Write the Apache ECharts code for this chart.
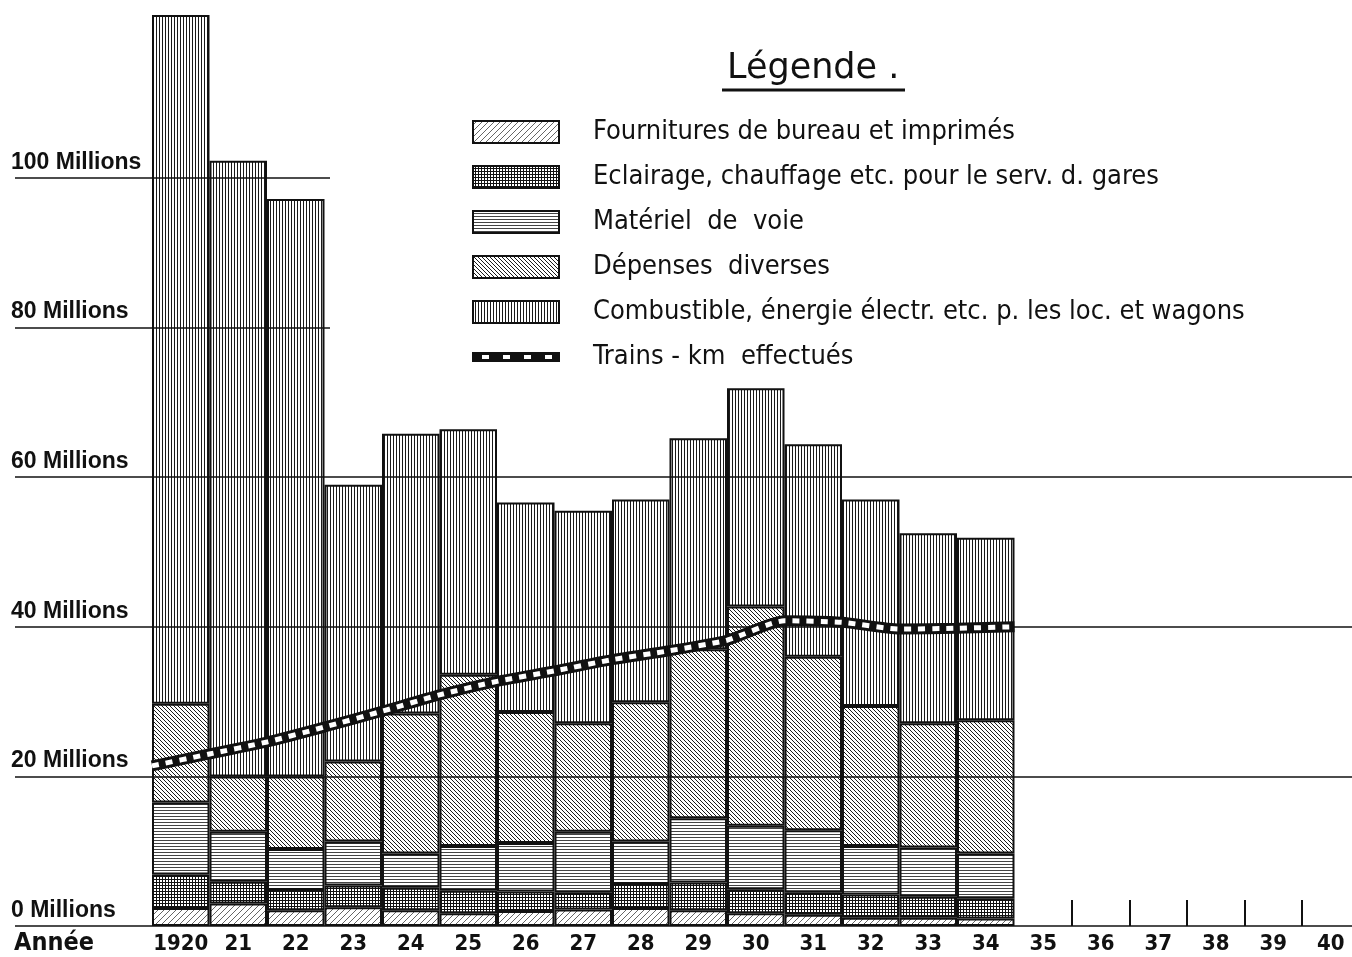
<!DOCTYPE html>
<html><head><meta charset="utf-8">
<script src="https://cdn.jsdelivr.net/npm/echarts@6/dist/echarts.min.js"></script>
<style>html,body{margin:0;padding:0;background:#fff}#c{width:1352px;height:957px}</style>
</head><body><div id="c"></div>
<script>
// ---- DATA ----
const years = ['1920','21','22','23','24','25','26','27','28','29','30','31','32','33','34','35','36','37','38','39','40'];
const fournitures = [2.4, 3.0, 2.1, 2.5, 2.1, 1.7, 2.0, 2.2, 2.4, 2.1, 1.7, 1.5, 1.1, 1.1, 1.0];
const eclairage   = [4.5, 2.9, 2.7, 2.9, 3.0, 3.0, 2.6, 2.3, 3.2, 3.7, 3.2, 3.0, 3.1, 2.8, 2.7];
const materiel    = [9.6, 6.7, 5.5, 5.9, 4.6, 6.0, 6.5, 8.1, 5.7, 8.6, 8.5, 8.3, 6.5, 6.6, 6.0];
const depenses    = [13.2, 7.4, 9.7, 10.7, 18.7, 22.9, 17.5, 14.5, 18.6, 22.6, 29.3, 23.2, 18.7, 16.6, 17.8];
const combustible = [92.1, 82.3, 77.2, 37.0, 37.4, 32.8, 28.0, 28.4, 27.1, 28.2, 29.2, 28.4, 27.6, 25.4, 24.4];
// Trains-km, read at the bar boundaries (start of 1920 ... end of 1934)
const trainsKm    = [21.4, 23.0, 24.6, 26.6, 28.7, 30.9, 32.7, 34.1, 35.6, 36.8, 38.2, 40.8, 40.6, 39.7, 39.8, 40.0];
const gridValues  = [0, 20, 40, 60, 80, 100];
const gridLabels  = ['0 Millions', '20 Millions', '40 Millions', '60 Millions', '80 Millions', '100 Millions'];
const names = [
  'Fournitures de bureau et imprimés',
  'Eclairage, chauffage etc. pour le serv. d. gares',
  'Matériel  de  voie',
  'Dépenses  diverses',
  'Combustible, énergie électr. etc. p. les loc. et wagons',
  'Trains - km  effectués'
];

// ---- PATTERNS ----
function tile(kind) {
  const c = document.createElement('canvas');
  let s = 3;
  if (kind === 'slash') s = 6;
  if (kind === 'back') s = 4;
  c.width = s; c.height = s;
  const g = c.getContext('2d');
  g.fillStyle = '#fff'; g.fillRect(0, 0, s, s);
  if (kind === 'slash' || kind === 'back') {
    g.strokeStyle = kind === 'slash' ? '#555' : '#1a1a1a';
    g.lineWidth = kind === 'slash' ? 0.9 : 1;
    g.beginPath();
    if (kind === 'slash') {
      g.moveTo(0, s); g.lineTo(s, 0);
      g.moveTo(-1, 1); g.lineTo(1, -1);
      g.moveTo(s - 1, s + 1); g.lineTo(s + 1, s - 1);
    } else {
      g.moveTo(0, 0); g.lineTo(s, s);
      g.moveTo(-1, s - 1); g.lineTo(1, s + 1);
      g.moveTo(s - 1, -1); g.lineTo(s + 1, 1);
    }
    g.stroke();
  } else if (kind === 'grid') {
    g.fillStyle = '#111'; g.fillRect(0, 0, s, 1); g.fillRect(0, 0, 1, s);
  } else if (kind === 'hor') {
    g.fillStyle = '#444'; g.fillRect(0, 0, s, 1);
  } else if (kind === 'ver') {
    g.fillStyle = '#1a1a1a'; g.fillRect(0, 0, 1, s);
  }
  return c;
}
const kinds = ['slash', 'grid', 'hor', 'back', 'ver'];
const tiles = kinds.map(tile);

function legendIcon(t) {
  const c = document.createElement('canvas');
  c.width = 116; c.height = 24;
  const g = c.getContext('2d');
  g.fillStyle = g.createPattern(t, 'repeat');
  g.fillRect(1, 1, 86, 22);
  g.strokeStyle = '#111'; g.lineWidth = 2;
  g.strokeRect(1, 1, 86, 22);
  return 'image://' + c.toDataURL();
}
function trainIcon() {
  const c = document.createElement('canvas');
  c.width = 116; c.height = 24;
  const g = c.getContext('2d');
  g.fillStyle = '#111'; g.fillRect(0, 7, 88, 10);
  g.fillStyle = '#fff';
  [10, 31, 52, 73].forEach(x => g.fillRect(x, 10, 7, 4));
  return 'image://' + c.toDataURL();
}

const barData = [fournitures, eclairage, materiel, depenses, combustible];
const series = barData.map((d, i) => ({
  type: 'bar', name: names[i], stack: 'total',
  xAxisIndex: 0, yAxisIndex: 0,
  barCategoryGap: '0%',
  data: d, z: 2,
  itemStyle: { color: { image: tiles[i], repeat: 'repeat' }, borderColor: '#111', borderWidth: 2 }
}));

// grid lines and their labels
const fullEnd = 1, shortEnd = 0.2356;
series.push({
  type: 'line', xAxisIndex: 2, yAxisIndex: 1, data: [], z: 5, silent: true,
  markLine: {
    symbol: ['none', 'none'], silent: true, animation: false,
    lineStyle: { color: '#111', width: 1.6, type: 'solid' },
    label: { show: true, position: 'insideStartTop', formatter: '{b}', distance: [-4, 4],
      fontFamily: 'Liberation Sans', fontWeight: 'bold', fontSize: 23, color: '#111' },
    data: gridValues.map((v, i) => [
      { coord: [0, v], name: gridLabels[i] },
      { coord: [v >= 80 ? shortEnd : fullEnd, v] }
    ])
  }
});

const trainData = trainsKm.map((v, i) => [i, v]);
series.push({
  type: 'line', name: names[5], xAxisIndex: 1, yAxisIndex: 0, data: trainData,
  showSymbol: false, smooth: 0.2, z: 10,
  lineStyle: { color: '#111', width: 11, cap: 'butt' }
});
series.push({
  type: 'line', name: names[5], xAxisIndex: 1, yAxisIndex: 0, data: trainData,
  showSymbol: false, smooth: 0.2, z: 11,
  lineStyle: { color: '#fff', width: 5, type: [7, 7], cap: 'butt' }
});

const chart = echarts.init(document.getElementById('c'), null, { renderer: 'canvas' });
chart.setOption({
  animation: false,
  backgroundColor: '#fff',
  title: {
    text: 'Légende .', left: 722, top: 46,
    textStyle: { fontFamily: 'DejaVu Sans', fontWeight: 'normal', fontSize: 35, color: '#111' }
  },
  legend: {
    orient: 'vertical', left: 467, top: 111,
    itemWidth: 116, itemHeight: 24, itemGap: 13,
    selectedMode: false,
    textStyle: { fontFamily: 'DejaVu Sans Condensed', fontSize: 27, color: '#111', lineHeight: 32 },
    data: [
      { name: names[0], icon: legendIcon(tiles[0]) },
      { name: names[1], icon: legendIcon(tiles[1]) },
      { name: names[2], icon: legendIcon(tiles[2]) },
      { name: names[3], icon: legendIcon(tiles[3]) },
      { name: names[4], icon: legendIcon(tiles[4]) },
      { name: names[5], icon: trainIcon() }
    ]
  },
  graphic: [
    { type: 'line', shape: { x1: 722, y1: 90, x2: 905, y2: 90 }, style: { stroke: '#111', lineWidth: 3 } },
    { type: 'text', left: 14, top: 931, style: { text: 'Année', fontFamily: 'DejaVu Sans Condensed', fontWeight: 'bold', fontSize: 25, fill: '#111' } }
  ],
  grid: [
    { left: 152, width: 1207.5, top: 13.4, bottom: 31, outerBoundsMode: 'none', containLabel: false },
    { left: 15, right: 0, top: 13.4, bottom: 31, outerBoundsMode: 'none', containLabel: false }
  ],
  xAxis: [
    { type: 'category', gridIndex: 0, data: years,
      axisLine: { show: false },
      axisTick: { show: true, inside: true, length: 26, interval: (i) => i >= 16 && i <= 20, lineStyle: { color: '#111', width: 2 } },
      axisLabel: { interval: 0, margin: 7, fontFamily: 'DejaVu Sans Condensed', fontWeight: 'bold', fontSize: 22, color: '#111' } },
    { type: 'value', gridIndex: 0, min: 0, max: 21, show: false },
    { type: 'value', gridIndex: 1, min: 0, max: 1, show: false }
  ],
  yAxis: [
    { type: 'value', gridIndex: 0, min: 0, max: 122, show: false },
    { type: 'value', gridIndex: 1, min: 0, max: 122, show: false }
  ],
  series: series
});
</script>
</body></html>
